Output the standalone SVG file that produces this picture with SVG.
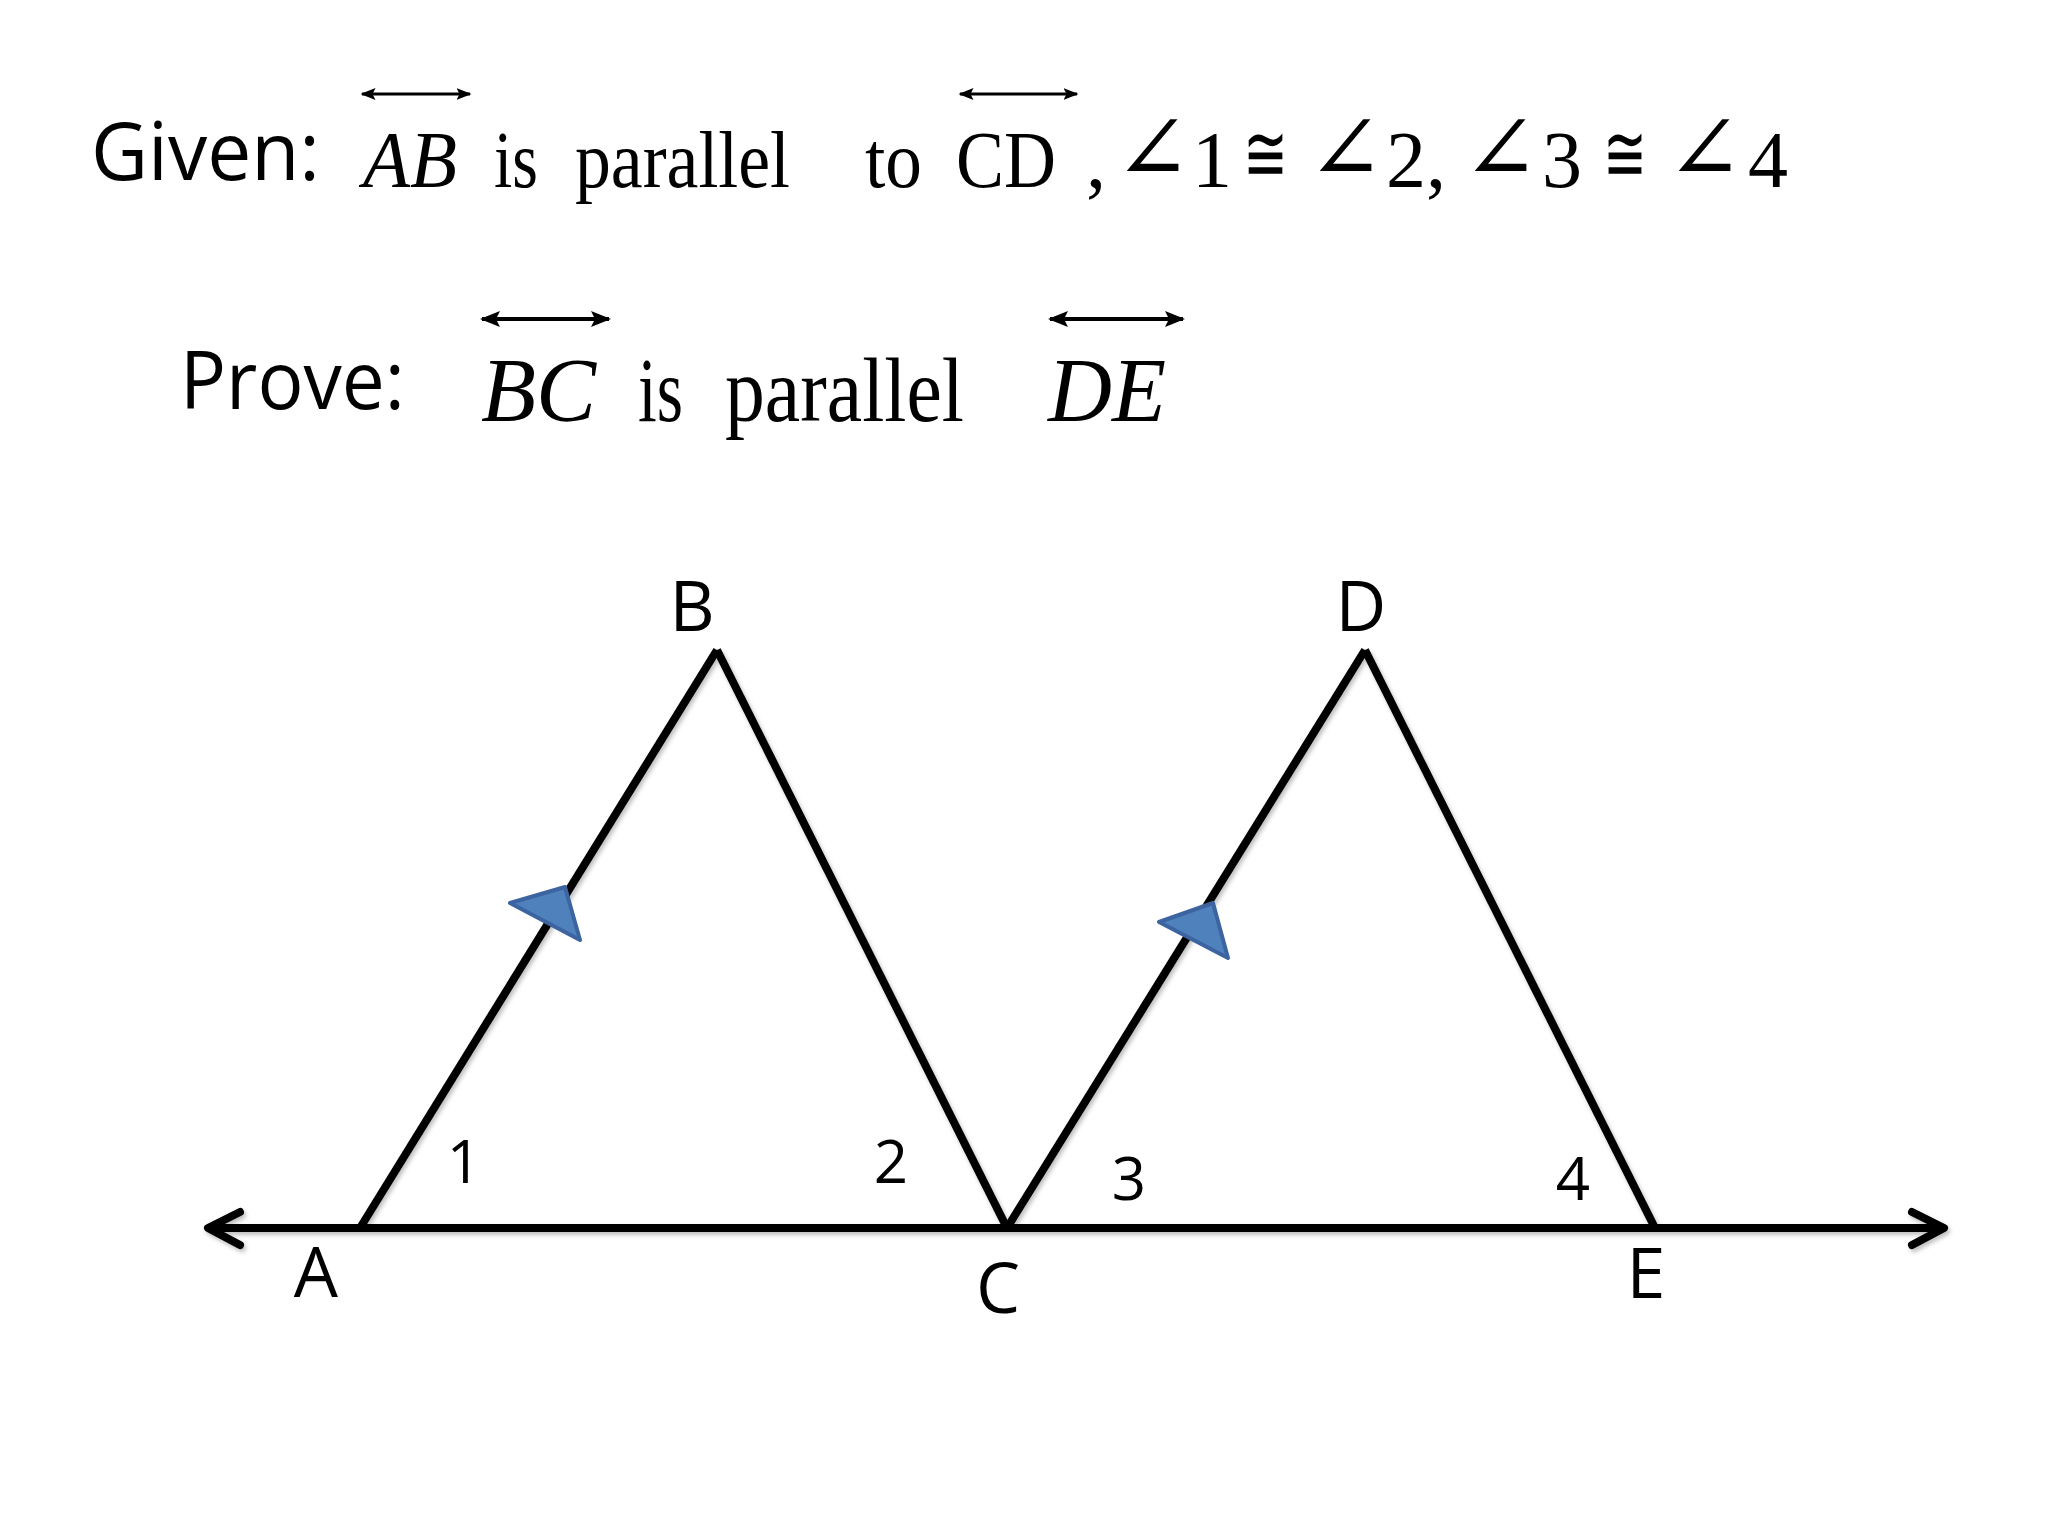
<svg xmlns="http://www.w3.org/2000/svg" width="2048" height="1536" viewBox="0 0 2048 1536">
  <defs>
    <style>
      .sans { font-family: "Open Sans", "Noto Sans", "DejaVu Sans", sans-serif; fill: #000; }
      .ser { font-family: "Liberation Serif", "DejaVu Serif", serif; fill: #000; }
      .it { font-style: italic; }
      .sym { font-family: "DejaVu Sans", "DejaVu Serif", sans-serif; font-weight: 200; fill: #000; }
      .seg { stroke: #000; stroke-width: 8; stroke-linecap: butt; fill: none; }
      .head { stroke: #000; stroke-width: 8; stroke-linecap: round; stroke-linejoin: round; fill: none; }
      .ovl { stroke: #000; stroke-width: 3; fill: none; }
      .ovl2 { stroke: #000; stroke-width: 4; fill: none; }
      .tick { fill: #4F81BD; stroke: #3B64A0; stroke-width: 4; stroke-linejoin: round; }
      .lbl { font-size: 70px; text-anchor: middle; }
      .num { font-size: 60px; text-anchor: middle; }
    </style>
    <marker id="ah" viewBox="0 0 10 10" refX="9" refY="5" markerWidth="5" markerHeight="5" orient="auto-start-reverse" markerUnits="strokeWidth">
      <path d="M0,1 L10,5 L0,9 L2,5 z" fill="#000"/>
    </marker>
    <filter id="sh" x="-5%" y="-5%" width="110%" height="110%">
      <feDropShadow dx="2" dy="3" stdDeviation="2" flood-color="#000" flood-opacity="0.25"/>
    </filter>
  </defs>
  <rect width="2048" height="1536" fill="#fff"/>

  <!-- Given line -->
  <g id="given">
    <text class="sans" x="91" y="180" font-size="80" textLength="229" lengthAdjust="spacingAndGlyphs">Given:</text>
    <line class="ovl" x1="362" y1="94" x2="470" y2="94" marker-start="url(#ah)" marker-end="url(#ah)"/>
    <text class="ser it" x="363" y="187" font-size="80" textLength="94" lengthAdjust="spacingAndGlyphs">AB</text>
    <text class="ser" x="494" y="187" font-size="80" textLength="44" lengthAdjust="spacingAndGlyphs">is</text>
    <text class="ser" x="575" y="187" font-size="80" textLength="215" lengthAdjust="spacingAndGlyphs">parallel</text>
    <text class="ser" x="865" y="187" font-size="80" textLength="57" lengthAdjust="spacingAndGlyphs">to</text>
    <line class="ovl" x1="960" y1="94" x2="1077" y2="94" marker-start="url(#ah)" marker-end="url(#ah)"/>
    <text class="ser" x="956" y="187" font-size="80" textLength="100" lengthAdjust="spacingAndGlyphs">CD</text>
    <text class="ser" x="1086" y="187" font-size="80">,</text>
    <text class="sym" x="1114" y="180" font-size="92">∠</text>
    <text class="ser" x="1192" y="187" font-size="80">1</text>
    <text class="sym" x="1243" y="181" font-size="80" textLength="45" lengthAdjust="spacingAndGlyphs">≅</text>
    <text class="sym" x="1307" y="180" font-size="92">∠</text>
    <text class="ser" x="1386" y="187" font-size="80">2,</text>
    <text class="sym" x="1462" y="180" font-size="92">∠</text>
    <text class="ser" x="1542" y="187" font-size="80">3</text>
    <text class="sym" x="1603" y="181" font-size="80" textLength="44" lengthAdjust="spacingAndGlyphs">≅</text>
    <text class="sym" x="1666" y="180" font-size="92">∠</text>
    <text class="ser" x="1748" y="187" font-size="80">4</text>
  </g>

  <!-- Prove line -->
  <g id="prove">
    <text class="sans" x="180" y="409" font-size="80" textLength="225" lengthAdjust="spacingAndGlyphs">Prove:</text>
    <line class="ovl2" x1="482" y1="319" x2="609" y2="319" marker-start="url(#ah)" marker-end="url(#ah)"/>
    <text class="ser it" x="481" y="421" font-size="92" textLength="115" lengthAdjust="spacingAndGlyphs">BC</text>
    <text class="ser" x="638" y="421" font-size="92" textLength="45" lengthAdjust="spacingAndGlyphs">is</text>
    <text class="ser" x="725" y="421" font-size="92" textLength="239" lengthAdjust="spacingAndGlyphs">parallel</text>
    <line class="ovl2" x1="1050" y1="319" x2="1183" y2="319" marker-start="url(#ah)" marker-end="url(#ah)"/>
    <text class="ser it" x="1048" y="421" font-size="92" textLength="118" lengthAdjust="spacingAndGlyphs">DE</text>
  </g>

  <!-- connectors / segments -->
  <g id="segments" filter="url(#sh)">
    <line class="seg" x1="210" y1="1228" x2="1942" y2="1228"/>
    <polyline class="head" points="240,1212 208,1228 240,1245"/>
    <polyline class="head" points="1912,1212 1944,1228 1912,1245"/>
    <line class="seg" x1="360" y1="1228" x2="717" y2="650"/>
    <line class="seg" x1="717" y1="650" x2="1007" y2="1228"/>
    <line class="seg" x1="1007" y1="1228" x2="1365" y2="650"/>
    <line class="seg" x1="1365" y1="650" x2="1655" y2="1228"/>
  </g>

  <g id="parallel-marks">
    <polygon class="tick" points="510,903 565,887 580,940"/>
    <polygon class="tick" points="1159,922 1213,903 1228,958"/>
  </g>

  <!-- point labels -->
  <g id="node-A"><text class="sans lbl" x="316" y="1297">A</text></g>
  <g id="node-B"><text class="sans lbl" x="692" y="631">B</text></g>
  <g id="node-C"><text class="sans lbl" x="998" y="1313">C</text></g>
  <g id="node-D"><text class="sans lbl" x="1361" y="631">D</text></g>
  <g id="node-E"><text class="sans lbl" x="1646" y="1298">E</text></g>

  <!-- angle labels -->
  <g id="angle-1"><text class="sans num" x="464" y="1183">1</text></g>
  <g id="angle-2"><text class="sans num" x="891" y="1183">2</text></g>
  <g id="angle-3"><text class="sans num" x="1129" y="1200">3</text></g>
  <g id="angle-4"><text class="sans num" x="1573" y="1200">4</text></g>
</svg>
